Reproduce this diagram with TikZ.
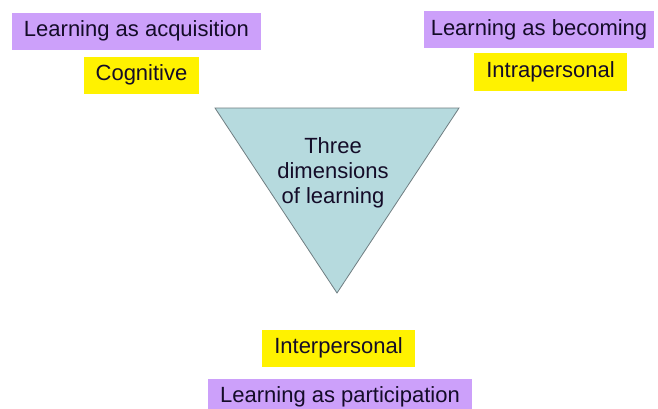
\documentclass[tikz,border=0pt]{standalone}
\usepackage{fontspec}
\setmainfont{Liberation Sans}
\usepackage{xcolor}
\usepackage{tikz}
\definecolor{lilac}{RGB}{204,160,250}
\definecolor{paleteal}{RGB}{182,218,222}
\definecolor{edgegrey}{RGB}{112,126,130}
\definecolor{inkblue}{RGB}{20,12,40}
\tikzset{
  label/.style={inner xsep=12pt,inner ysep=8pt,text height=16pt,text depth=5pt,text=inkblue,font=\fontsize{22}{25}\selectfont},
  viewbox/.style={label,fill=lilac},
  dimbox/.style={label,fill=yellow},
}

\begin{document}
\begin{tikzpicture}[x=1pt,y=1pt]
      \useasboundingbox (0,0) rectangle (658,408);
      \fill[white] (0,0) rectangle (658,408);
      \filldraw[draw=edgegrey,fill=paleteal,line width=0.8pt](215,300) -- (459,300) -- (337,115) -- cycle;
      \node[align=center,text=inkblue,font=\fontsize{22}{25}\selectfont] (centre) at (333,235) {Three\\dimensions\\of learning};
      \node[viewbox] (acquisition) at (136.5,376.5) {Learning as acquisition};
      \node[dimbox] (cognitive) at (141.5,332.5) {Cognitive};
      \node[viewbox,inner xsep=7pt] (becoming) at (539,378) {Learning as becoming};
      \node[dimbox] (intrapersonal) at (550.5,336) {Intrapersonal};
      \node[dimbox] (interpersonal) at (338.5,60) {Interpersonal};
      \node[viewbox] (participation) at (340,11) {Learning as participation};
    \end{tikzpicture}
\end{document}
